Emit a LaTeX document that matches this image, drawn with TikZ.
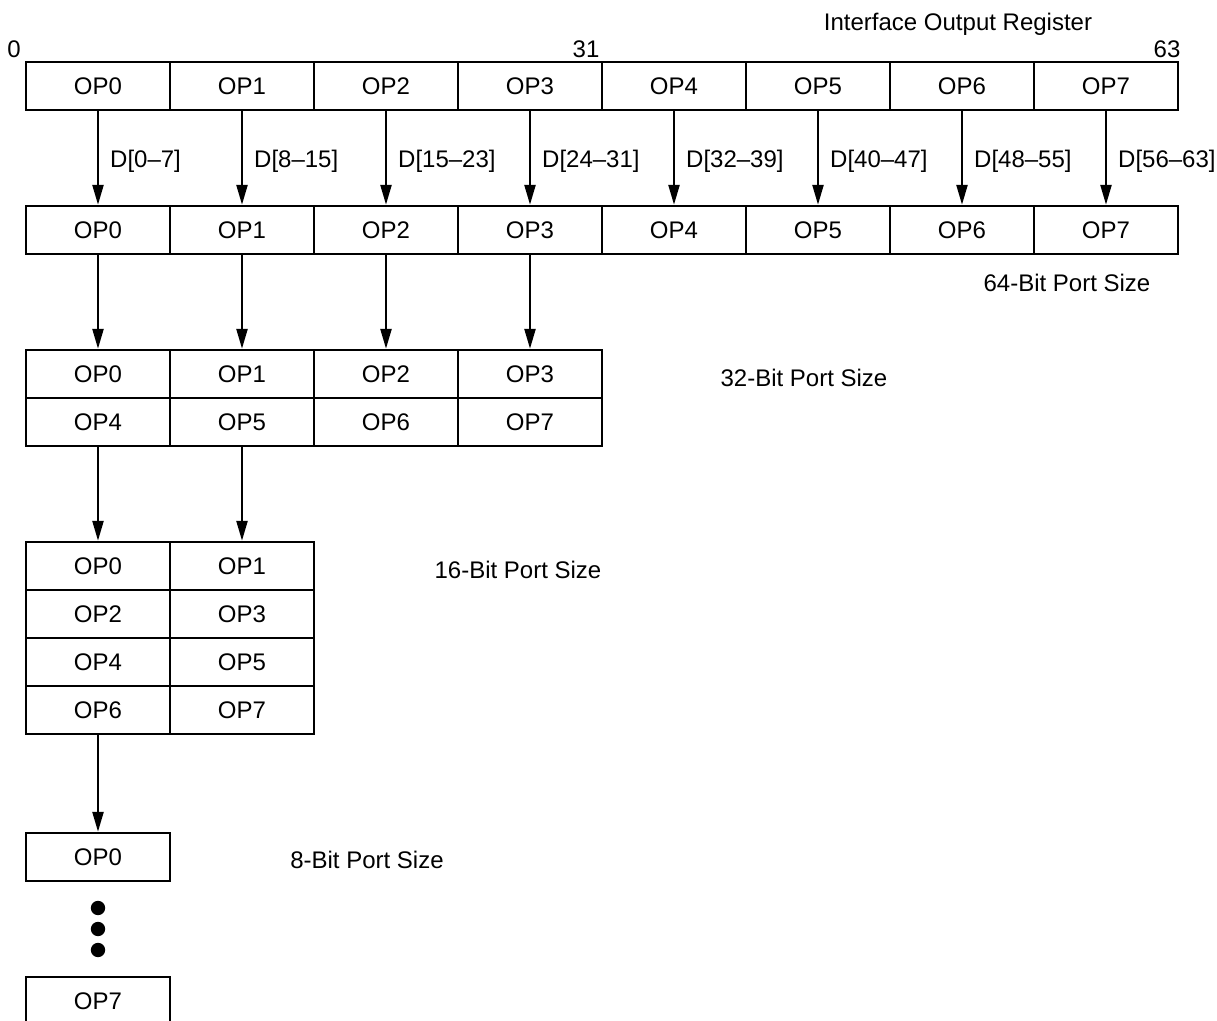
\documentclass[tikz,border=0pt]{standalone}
\usepackage{fontspec}
\setmainfont{Liberation Sans}
\usetikzlibrary{arrows.meta}

\begin{document}
\begin{tikzpicture}[
  x=.5pt,y=-.5pt,
  cell/.style={
    draw=black,line width=1.2pt,minimum width=72pt,minimum height=24pt,
    inner sep=0pt,font=\fontsize{12}{14}\selectfont
  },
  flowarrow/.style={
    -{Triangle[length=10pt,width=5.5pt]},draw=black,line width=1.2pt
  },
  buslabel/.style={font=\fontsize{12}{14}\selectfont,inner sep=0pt},
  caption/.style={font=\fontsize{12}{14}\selectfont,inner sep=0pt},
  dot/.style={fill=black}
]
  \useasboundingbox (0,0) rectangle (1217,1021);
  \clip (0,0) rectangle (1217,1021);

  % output register and 64-bit port: one row of eight bytes
  \foreach \i in {0,...,7}{
    \node[cell] (reg\i) at (98+144*\i,86) {OP\i};
    \node[cell] (p64-\i) at (98+144*\i,230) {OP\i};
  }
  % 32-bit port: two rows of four
  \foreach \i in {0,...,3}{
    \pgfmathtruncatemacro\j{\i+4}
    \node[cell] (p32-\i) at (98+144*\i,374) {OP\i};
    \node[cell] (p32-\j) at (98+144*\i,422) {OP\j};
  }
  % 16-bit port: four rows of two
  \foreach \r in {0,...,3}{
    \foreach \c in {0,1}{
      \pgfmathtruncatemacro\k{2*\r+\c}
      \node[cell] (p16-\k) at (98+144*\c,566+48*\r) {OP\k};
    }
  }
  % 8-bit port
  \node[cell] (p8-0) at (98,857) {OP0};
  \node[cell] (p8-7) at (98,1001) {OP7};
  \foreach \y in {908,929,950}
    {\fill[dot] (98,\y) circle[radius=3.6pt];}

  \foreach \i/\bits in {0/0--7,1/8--15,2/15--23,3/24--31,
                        4/32--39,5/40--47,6/48--55,7/56--63}
    {\draw[flowarrow] (reg\i) -- (p64-\i)
       node[midway,right=5.5pt,yshift=-1.5pt,buslabel] {D[\bits]};}
  \foreach \i in {0,...,3}
    {\draw[flowarrow] (p64-\i) -- (p32-\i);}
  \draw[flowarrow] (p32-4) -- (p16-0);
  \draw[flowarrow] (p32-5) -- (p16-1);
  \draw[flowarrow] (p16-6) -- (p8-0);

  \node[caption,anchor=base] (title) at (958,31) {Interface Output Register};
  \node[caption] (bit0) at (14,49) {0};
  \node[caption] (bit31) at (586,49) {31};
  \node[caption] (bit63) at (1167,49) {63};
  \node[caption] (size64) at (1067,283) {64-Bit Port Size};
  \node[caption] (size32) at (804,378) {32-Bit Port Size};
  \node[caption] (size16) at (518,570) {16-Bit Port Size};
  \node[caption] (size8) at (367,860) {8-Bit Port Size};
\end{tikzpicture}
\end{document}
